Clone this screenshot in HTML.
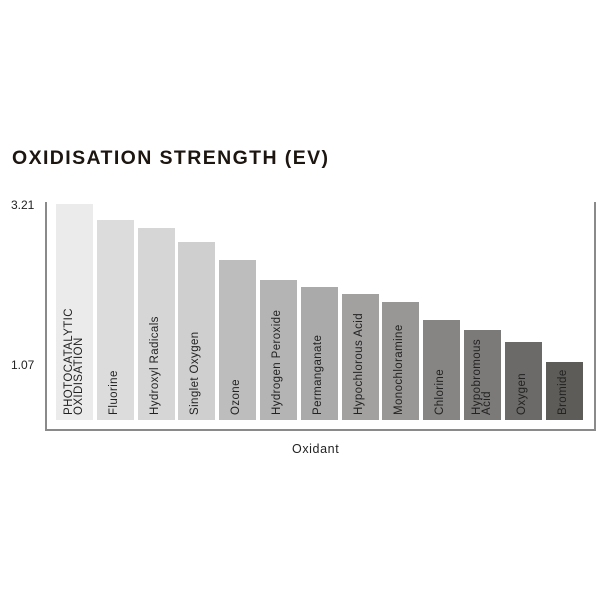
<!DOCTYPE html>
<html><head><style>
body{margin:0;background:#fff;width:603px;height:603px;overflow:hidden;position:relative;font-family:"Liberation Sans",sans-serif}
.t{position:absolute;left:12px;top:147px;font-size:19.5px;font-weight:bold;color:#1c1510;letter-spacing:1.4px}
.ax{position:absolute;left:45px;top:202px;width:547px;height:227px;border-left:2px solid #8a8a8a;border-bottom:2px solid #8a8a8a;border-right:2px solid #8a8a8a;border-top:none}
.l{position:absolute;font-size:11.5px;color:#222;white-space:nowrap;transform:rotate(-90deg);transform-origin:0 0;line-height:10px;letter-spacing:0.4px}
.y{position:absolute;font-size:12px;color:#222}
</style></head><body>
<div class="t">OXIDISATION STRENGTH (EV)</div>
<div class="ax"></div>
<div class="y" style="left:11px;top:198px">3.21</div>
<div class="y" style="left:11px;top:358px">1.07</div>
<div class="y" style="left:292px;top:442px;font-size:12.5px;letter-spacing:0.6px">Oxidant</div>
<div id="c"></div>
<script>
var d=[[56,204,"#ebebeb","PHOTOCATALYTIC<br>OXIDISATION"],[97,220,"#dcdcdc","Fluorine"],[138,228,"#d6d6d6","Hydroxyl Radicals"],[178,242,"#cfcfcf","Singlet Oxygen"],[219,260,"#bdbdbd","Ozone"],[260,280,"#b4b4b4","Hydrogen Peroxide"],[301,287,"#aaaaaa","Permanganate"],[342,294,"#a2a1a0","Hypochlorous Acid"],[382,302,"#999796","Monochloramine"],[423,320,"#878584","Chlorine"],[464,330,"#7c7a79","Hypobromous<br>Acid"],[505,342,"#6c6a68","Oxygen"],[546,362,"#5e5c59","Bromide"]];
var h="";
d.forEach(function(e){h+='<div style="position:absolute;left:'+e[0]+'px;top:'+e[1]+'px;width:37px;height:'+(420-e[1])+'px;background:'+e[2]+'"></div>';
var two=e[3].indexOf("<br>")>0;
h+='<div class="l" style="left:'+(e[0]+(two?8:12))+'px;top:415px">'+e[3]+'</div>';});
document.getElementById("c").innerHTML=h;
</script>
</body></html>
